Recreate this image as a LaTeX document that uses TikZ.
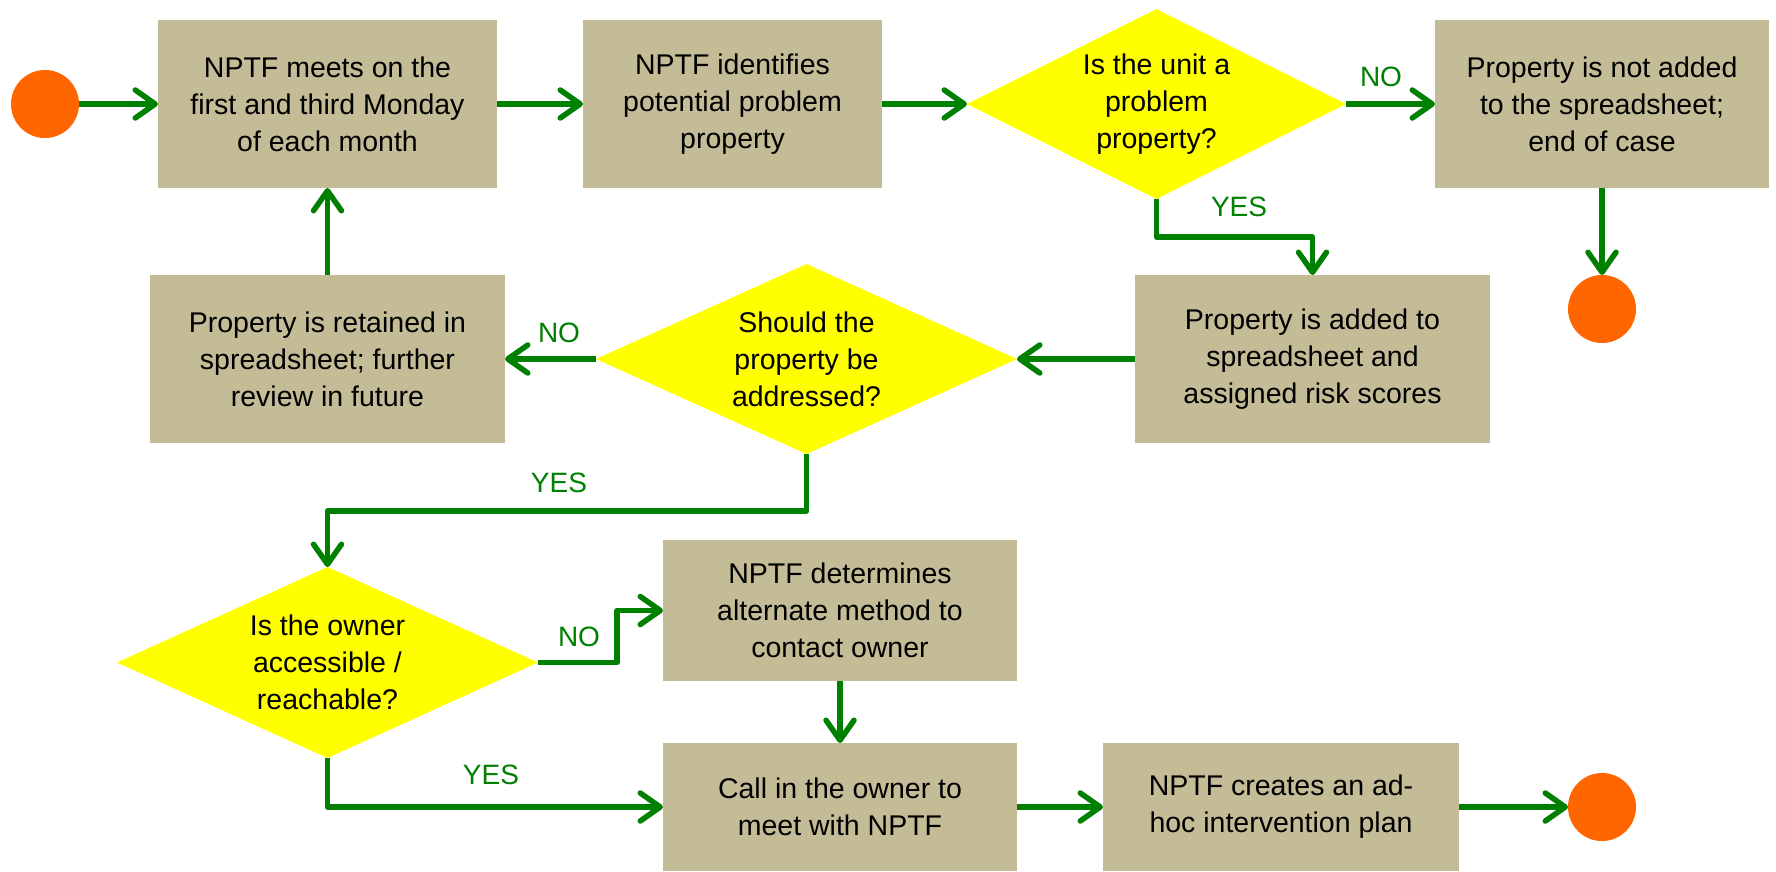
\documentclass[tikz,border=0pt]{standalone}
\usepackage{fontspec}
\setmainfont{Liberation Sans}
\usetikzlibrary{shapes.geometric,arrows.meta}
\definecolor{boxtan}{HTML}{C4BC96}
\definecolor{dgreen}{HTML}{008000}
\definecolor{orng}{HTML}{FF6600}
\definecolor{yel}{HTML}{FFFF00}
\begin{document}
\begin{tikzpicture}[x=1pt,y=-1pt,
 box/.style={rectangle, fill=boxtan, inner sep=0pt, outer sep=0pt, align=center, font=\fontsize{28.5}{37}\selectfont},
 dia/.style={diamond, fill=yel, inner sep=0pt, outer sep=0pt, minimum width=421pt, minimum height=190pt},
 dtext/.style={align=center, font=\fontsize{28.5}{37}\selectfont, inner sep=0pt},
 term/.style={circle, fill=orng, minimum size=68pt, inner sep=0pt, outer sep=0pt},
 arr/.style={draw=dgreen, line width=5.5pt, line join=round, -{Straight Barb[length=20pt,width=28pt,round]}},
 lbl/.style={text=dgreen, font=\fontsize{28}{34}\selectfont, inner sep=0pt}]
\useasboundingbox (0,0) rectangle (1776,871);
% terminals
\node[term] (s) at (45,104) {};
\node[term] (e2) at (1602,309) {};
\node[term] (e3) at (1602,807) {};
% boxes
\node[box, minimum width=339pt, minimum height=168pt] (b1) at (327.5,104) {NPTF meets on the\\first and third Monday\\of each month};
\node[box, minimum width=299pt, minimum height=168pt] (b2) at (732.5,104) {NPTF identifies\\potential problem\\property};
\node[box, minimum width=334pt, minimum height=168pt] (b3) at (1602,104) {Property is not added\\to the spreadsheet;\\end of case};
\node[box, minimum width=355pt, minimum height=168pt] (b4) at (1312.5,359) {Property is added to\\spreadsheet and\\assigned risk scores};
\node[box, minimum width=355pt, minimum height=168pt] (br) at (327.5,359) {Property is retained in\\spreadsheet; further\\review in future};
\node[box, minimum width=354pt, minimum height=141pt] (b5) at (840,610.5) {NPTF determines\\alternate method to\\contact owner};
\node[box, minimum width=354pt, minimum height=128pt] (b6) at (840,807) {Call in the owner to\\meet with NPTF};
\node[box, minimum width=356pt, minimum height=128pt] (b7) at (1281,807) {NPTF creates an ad-\\hoc intervention plan};
% diamonds
\node[dia, minimum width=379pt] (d1) at (1156.5,104) {};
\node[dtext] (d1t) at (d1.center) {Is the unit a\\problem\\property?};
\node[dia] (d2) at (806.5,359) {};
\node[dtext] (d2t) at (d2.center) {Should the\\property be\\addressed?};
\node[dia, minimum height=191pt] (d3) at (327.5,662.5) {};
\node[dtext] (d3t) at (d3.center) {Is the owner\\accessible /\\reachable?};
% helper coordinates
\coordinate (y1) at (0,237);
\coordinate (y2) at (0,511);
\coordinate (x3) at (617,0);
% connectors
\draw[arr] (s) -- (b1);
\draw[arr] (b1) -- (b2);
\draw[arr] (b2) -- (d1);
\draw[arr] (d1) -- (b3);
\draw[arr] (b3) -- (e2);
\draw[arr] (d1.south) -- (d1.south |- y1) -| (b4.north);
\draw[arr] (b4) -- (d2);
\draw[arr] (d2) -- (br);
\draw[arr] (br) -- (b1);
\draw[arr] (d2.south) -- (d2.south |- y2) -| (d3.north);
\draw[arr] (d3.east) -- (d3.east -| x3) |- (b5.west);
\draw[arr] (d3.south) |- (b6.west);
\draw[arr] (b5) -- (b6);
\draw[arr] (b6) -- (b7);
\draw[arr] (b7) -- (e3);
% labels
\node[lbl] (l1) at (1381,77) {NO};
\node[lbl] (l2) at (1239,207) {YES};
\node[lbl] (l3) at (559,333) {NO};
\node[lbl] (l4) at (559,483) {YES};
\node[lbl] (l5) at (579,637) {NO};
\node[lbl] (l6) at (491,775) {YES};
\end{tikzpicture}
\end{document}
